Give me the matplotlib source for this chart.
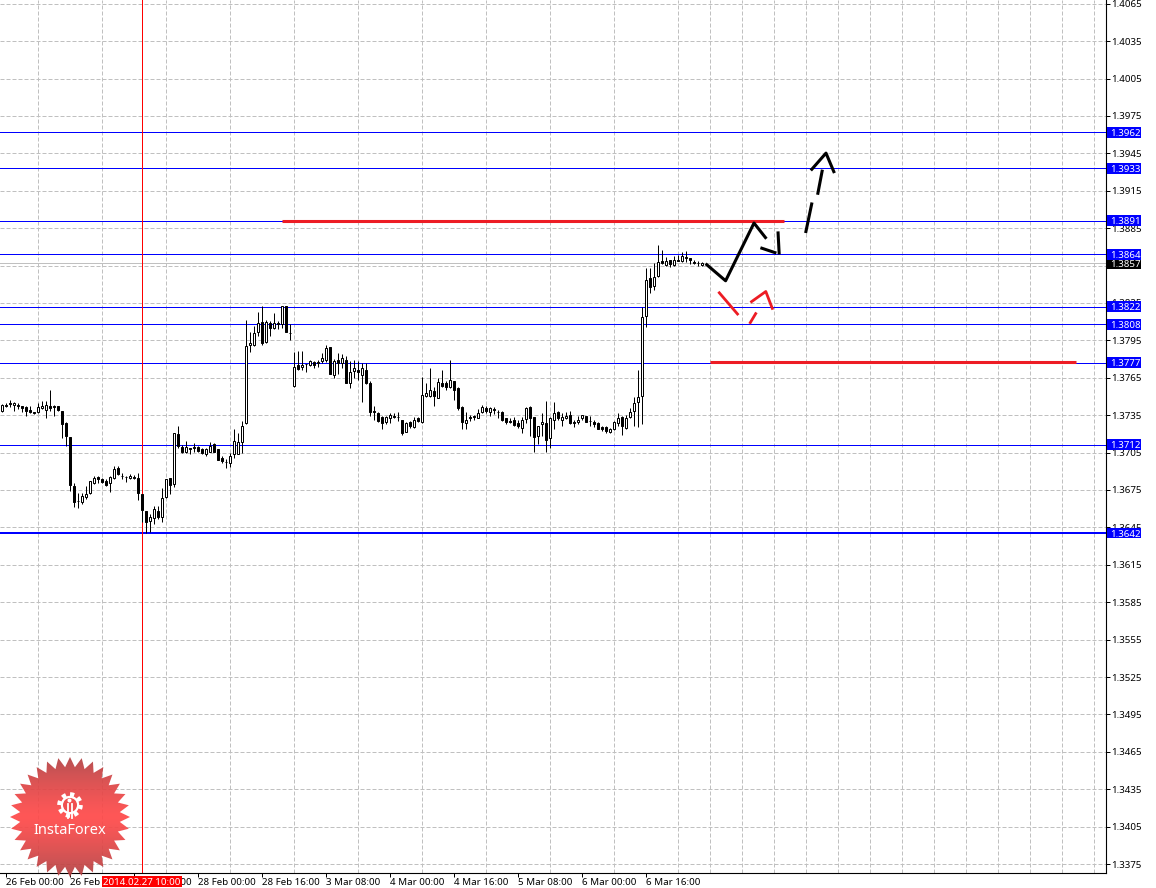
import numpy as np
import matplotlib
matplotlib.use('Agg')
import matplotlib.pyplot as plt
from matplotlib.patches import Polygon, Circle, Rectangle

plt.rcParams['font.family'] = ['Noto Sans', 'DejaVu Sans']

# Hourly candles, in 1/100000 of a price unit
opens = [137380,137433,137444,137428,137433,137420,137417,137393,137377,137372,
    137404,137388,137425,137420,137423,137385,137289,137177,136781,136663,
    136650,136690,136725,136810,136851,136837,136826,136805,136845,136925,
    136864,136856,136845,136853,136845,136717,136580,136498,136522,136583,
    136530,136693,136848,136802,137198,137094,137051,137083,137094,137094,
    137078,137040,137056,137118,137078,137008,136976,136966,137035,137040,
    137131,137286,137909,137912,138016,138097,137936,138089,138051,138089,
    138083,138228,138008,137581,137754,137733,137762,137749,137773,137778,
    137781,137789,137899,137669,137792,137768,137792,137612,137701,137711,
    137671,137714,137607,137383,137366,137332,137292,137326,137342,137334,
    137310,137219,137292,137254,137326,137292,137500,137506,137543,137490,
    137607,137607,137578,137623,137570,137415,137286,137334,137342,137326,
    137375,137404,137375,137399,137377,137375,137326,137302,137310,137286,
    137251,137321,137417,137334,137185,137278,137289,137166,137310,137375,
    137308,137326,137350,137297,137294,137324,137345,137302,137297,137286,
    137254,137254,137214,137241,137284,137337,137246,137334,137380,137452,
    137500,138142,138449,138390,138470,138585,138551,138591,138551,138593,
    138585,138618,138610,138577,138572,138553]
highs = [137439,137447,137468,137452,137447,137425,137423,137420,137377,137447,
    137460,137466,137554,137433,137423,137385,137297,137177,136810,136725,
    136725,136778,136826,136864,136864,136845,136837,136864,136939,136939,
    136885,136864,136880,136869,136885,136717,136580,136559,136623,136618,
    136765,136840,136848,137206,137260,137113,137139,137089,137126,137105,
    137083,137083,137137,137123,137078,137019,136998,137046,137238,137206,
    137300,138115,138014,138062,138174,138228,138115,138102,138169,138102,
    138228,138228,138081,137853,137867,137867,137762,137794,137784,137789,
    137848,137915,137899,137800,137848,137842,137821,137781,137789,137786,
    137768,137768,137621,137425,137372,137345,137345,137366,137366,137372,
    137313,137292,137300,137334,137334,137655,137612,137727,137580,137647,
    137714,137621,137794,137623,137575,137425,137372,137353,137353,137399,
    137433,137425,137415,137415,137393,137380,137329,137326,137334,137313,
    137334,137415,137425,137334,137265,137366,137465,137334,137452,137380,
    137366,137372,137385,137313,137345,137353,137345,137340,137308,137292,
    137265,137265,137246,137300,137366,137340,137353,137407,137495,137714,
    138216,138529,138529,138569,138716,138676,138618,138596,138623,138636,
    138655,138666,138610,138591,138585,138580]
lows = [137372,137415,137415,137380,137401,137375,137345,137367,137361,137369,
    137399,137324,137380,137340,137383,137163,137099,136738,136613,136602,
    136639,136677,136720,136800,136810,136805,136778,136736,136840,136869,
    136840,136818,136840,136837,136671,136490,136409,136412,136479,136516,
    136490,136685,136714,136773,137089,137046,137046,137038,137056,137056,
    137040,137019,137051,137051,136990,136966,136923,136931,137008,137040,
    137046,137281,137859,137907,137987,137912,137928,137982,138040,138040,
    138048,138014,137950,137575,137714,137714,137693,137746,137730,137736,
    137768,137778,137682,137647,137682,137727,137605,137572,137647,137629,
    137452,137602,137345,137313,137292,137241,137281,137286,137326,137300,
    137195,137217,137246,137249,137294,137284,137495,137495,137420,137484,
    137580,137554,137567,137468,137388,137243,137241,137300,137313,137324,
    137366,137366,137340,137361,137326,137300,137281,137286,137260,137246,
    137211,137286,137179,137056,137121,137179,137056,137086,137243,137313,
    137260,137318,137281,137254,137276,137313,137292,137260,137254,137238,
    137222,137211,137209,137233,137260,137190,137241,137329,137260,137254,
    137281,138061,138329,138355,138462,138564,138548,138537,138548,138583,
    138580,138575,138564,138564,138548,138543]
closes = [137433,137420,137439,137447,137420,137407,137380,137377,137364,137415,
    137425,137428,137404,137415,137388,137276,137179,136792,136650,136658,
    136701,136717,136821,136845,136837,136813,136794,136853,136917,136875,
    136859,136851,136861,136848,136722,136591,136492,136530,136597,136535,
    136682,136837,136794,137204,137099,137056,137097,137078,137089,137059,
    137048,137078,137105,137056,136992,136979,136971,137022,137142,137131,
    137262,137904,137928,138008,138089,137926,138097,138048,138089,138081,
    138222,138014,138006,137736,137722,137754,137760,137786,137752,137770,
    137808,137888,137682,137781,137768,137808,137605,137698,137727,137693,
    137727,137607,137372,137372,137305,137284,137334,137350,137337,137332,
    137211,137286,137260,137310,137300,137511,137527,137551,137500,137615,
    137586,137575,137629,137548,137404,137292,137308,137326,137334,137366,
    137415,137380,137404,137393,137372,137308,137297,137294,137273,137260,
    137313,137409,137324,137171,137260,137292,137153,137326,137366,137326,
    137334,137342,137284,137286,137313,137348,137294,137300,137276,137241,
    137241,137227,137238,137294,137326,137260,137326,137372,137447,137495,
    138136,138433,138382,138462,138577,138569,138583,138564,138596,138585,
    138623,138612,138591,138572,138567,138569]

# Horizontal levels: drawn value, label
level_values = [1.3962, 1.3933, 1.3891, 1.3864, 1.3822, 1.3808, 1.3777, 1.37112]
level_labels = ['1.3962', '1.3933', '1.3891', '1.3864', '1.3822', '1.3808', '1.3777', '1.3712']
thick_level = 1.36405
thick_label = '1.3642'
last_price = 1.3857

y_ticks = [1.3375, 1.3405, 1.3435, 1.3465, 1.3495, 1.3525, 1.3555, 1.3585, 1.3615, 1.3645,
           1.3675, 1.3705, 1.3735, 1.3765, 1.3795, 1.3825, 1.3855, 1.3885, 1.3915, 1.3945,
           1.3975, 1.4005, 1.4035, 1.4065]
x_labels = ['26 Feb 00:00', '26 Feb 16:00', '27 Feb 08:00', '28 Feb 00:00', '28 Feb 16:00',
            '3 Mar 08:00', '4 Mar 00:00', '4 Mar 16:00', '5 Mar 08:00', '6 Mar 00:00', '6 Mar 16:00']
x_label_bars = [1, 17, 33, 49, 65, 81, 97, 113, 129, 145, 161]
cursor_bar = 35
cursor_label = '2014.02.27 10:00'

# Hand drawn strokes, (bars, prices)
black_strokes = [
    ([175.9, 180.9, 188.0, 191.1], [1.38565, 1.38428, 1.38891, 1.38765]),
    ([189.6, 193.6], [1.38693, 1.38650]),
    ([194.3, 194.0], [1.38639, 1.38824]),
    ([200.9, 202.5], [1.38811, 1.39056]),
    ([203.9, 205.1], [1.39118, 1.39319]),
    ([202.2, 206.0, 208.1], [1.39313, 1.39452, 1.39292]),
]
red_strokes = [
    ([179.1, 184.1], [1.38340, 1.38153]),
    ([187.1, 190.95, 192.7], [1.38254, 1.38342, 1.38196]),
    ([186.9, 188.6], [1.38083, 1.38174]),
]
red_levels = [([69.9, 195.6], [1.3891, 1.3891]), ([176.9, 268.6], [1.37778, 1.37778])]

W, H = 1156, 888
fig = plt.figure(figsize=(W / 100, H / 100), dpi=100, facecolor='white')
ax = fig.add_axes([0, (H - 872.5) / H, 1105.5 / W, 872.5 / H])
ax.set_xlim(-0.5, 275.875)
ax.set_ylim(1.33682, 1.40680)

px = 0.72  # one pixel in points
o, h, l, c = [np.array(a) / 1e5 for a in (opens, highs, lows, closes)]
bars = np.arange(len(o))

# Grid
ax.set_xticks(np.arange(1, 276, 8), minor=True)
ax.set_yticks(y_ticks)
ax.grid(which='minor', axis='x', color='#c0c0c0', ls=(0, (4, 2)), lw=px, zorder=1)
ax.grid(which='major', axis='y', color='#c0c0c0', ls=(0, (4, 2)), lw=px, zorder=1)
ax.tick_params(which='minor', length=0)

# Levels and cursor
ax.axhline(last_price, color='#c0c0c0', lw=px, zorder=2)
for v in level_values:
    ax.axhline(v, color='#0000ff', lw=px, zorder=2)
ax.axhline(thick_level, color='#0000ff', lw=2 * px, zorder=2)
ax.axvline(cursor_bar, color='#ff0000', lw=px, zorder=2)

# Candles
ax.vlines(bars, l, h, color='black', lw=px, zorder=3)
up = c >= o
ax.bar(bars[up], (c - o)[up], bottom=o[up], width=0.5, color='white', edgecolor='black', lw=px, zorder=4)
ax.bar(bars[~up], (o - c)[~up], bottom=c[~up], width=0.5, color='black', edgecolor='black', lw=px, zorder=4)

# Strokes
for xs, ys in red_levels:
    ax.plot(xs, ys, color='#ed1c24', lw=2.2, solid_capstyle='butt', zorder=5)
for xs, ys in black_strokes:
    ax.plot(xs, ys, color='black', lw=2.2, solid_capstyle='butt', zorder=5)
for xs, ys in red_strokes:
    ax.plot(xs, ys, color='#ed1c24', lw=2.0, solid_capstyle='butt', zorder=5)

# Axes
for s in ('top', 'left'):
    ax.spines[s].set_visible(False)
ax.yaxis.tick_right()
ax.set_yticklabels(['%.4f' % t for t in y_ticks], fontsize=7)
ax.set_xticks(x_label_bars)
ax.set_xticklabels(x_labels, fontsize=7, ha='left')
ax.tick_params(axis='y', which='major', length=3, width=px, pad=1)
ax.tick_params(axis='x', which='major', length=3, width=px, pad=1)

# Price tags
tf = ax.get_yaxis_transform()
def tag(value, text, color):
    ax.add_patch(Rectangle((1107 / 1105.5, value - 0.00044), 34 / 1105.5, 0.00088, transform=tf,
                           fc=color, ec='none', clip_on=False, zorder=9))
    ax.text(1110.5 / 1105.5, value, text, transform=tf, fontsize=7, color='white', va='center_baseline',
            ha='left', zorder=10, clip_on=False)
tag(last_price, '1.3857', 'black')
for v, t in zip(level_values, level_labels):
    tag(v, t, '#0000ff')
tag(thick_level, thick_label, '#0000ff')
xf = ax.get_xaxis_transform()
ax.add_patch(Rectangle((25, -3.5 / 872.5), 20, -11 / 872.5, transform=xf, fc='#ff0000', ec='none',
                       clip_on=False, zorder=9))
ax.text(35, -9 / 872.5, cursor_label, transform=xf, fontsize=7, color='white',
        ha='center', va='center_baseline', zorder=10, clip_on=False)

# Logo
lax = fig.add_axes([0, 0, 140 / W, 140 / H])
lax.axis('off')
lax.patch.set_alpha(0)
cx, cy = 70, 817
n = 32
ang = np.arange(2 * n) * np.pi / n - np.pi / 2
rad = np.where(np.arange(2 * n) % 2 == 0, 60, 50)
star = Polygon(np.c_[cx + rad * np.cos(ang), cy + rad * np.sin(ang)], closed=True, fc='none', ec='none')
lax.add_patch(star)
grad = np.abs(np.linspace(-1, 1, 256)) ** 1.3
rgb = np.array([255, 72, 72]) * (1 - grad[:, None]) + np.array([172, 64, 66]) * grad[:, None]
im = lax.imshow(rgb[:, None, :] / 255, extent=[cx - 62, cx + 62, cy + 62, cy - 62], aspect='auto', alpha=0.92, zorder=2)
im.set_clip_path(star)
lax.set_xlim(0, 140)
lax.set_ylim(888, 748)
# gear
t = np.linspace(0, 2 * np.pi, 320)
gr = 11 + 1.8 * np.sign(np.sin(8 * t))
lax.add_patch(Polygon(np.c_[cx + gr * np.cos(t), 805 + gr * np.sin(t)], fc='white', ec='none', zorder=3))
lax.add_patch(Circle((cx, 805), 7, fc='#f05050', ec='none', zorder=4))
lax.add_patch(Circle((cx - 0.5, 800.5), 2, fc='white', ec='none', zorder=5))
lax.plot([cx - 2.5, cx - 2.5], [804, 818], color='white', lw=1.3, zorder=5)
lax.plot([cx + 2, cx + 2], [804, 818], color='white', lw=1.3, zorder=5)
lax.text(cx - 0.5, 830.5, 'InstaForex', color='white', fontsize=10.5, ha='center', va='center', zorder=6)

fig.savefig('out.png', dpi=100)
